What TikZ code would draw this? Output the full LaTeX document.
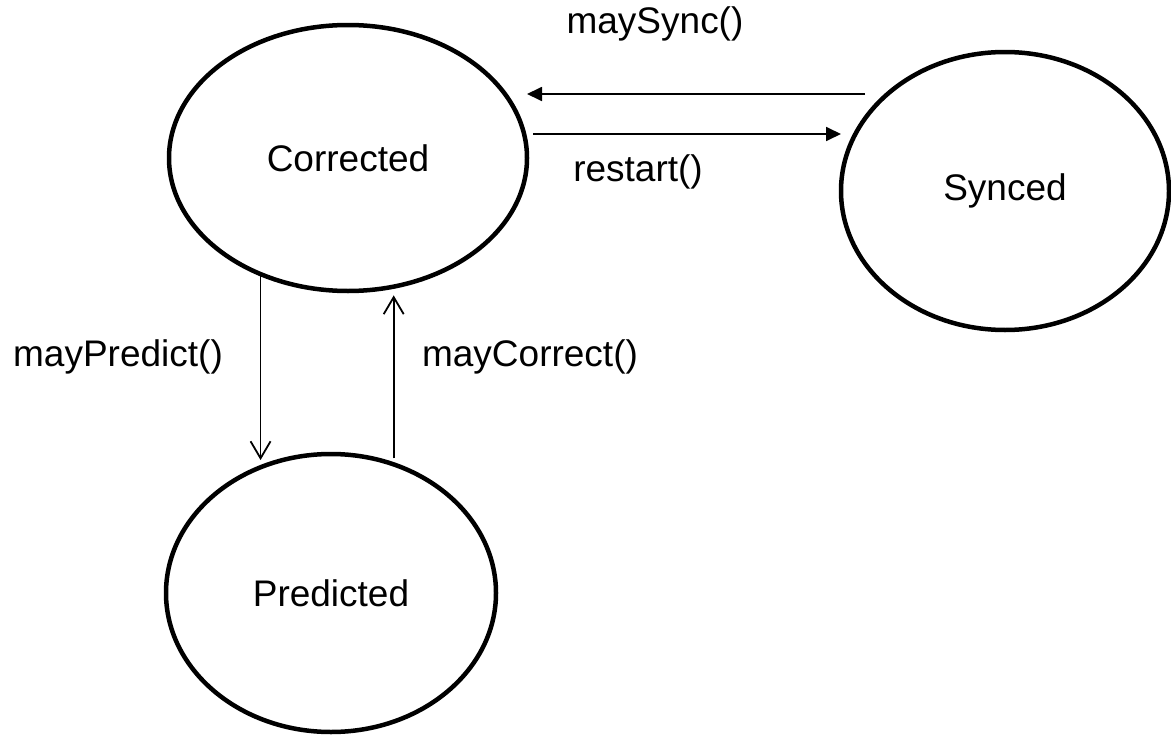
\documentclass[tikz,border=0pt]{standalone}
\usepackage{fontspec}
\setmainfont{Liberation Sans}
\usetikzlibrary{positioning,shapes.geometric,arrows.meta}
\tikzstyle{farrow} = [line width=1.8pt, -{Triangle[length=15pt,width=14pt]}]
\tikzstyle{oarrow} = [line width=1.8pt, -{Straight Barb[length=17pt,width=20pt,line width=1.8pt]}]
\tikzstyle{state} = [draw, ellipse, line width=4.5pt, outer sep=0pt, font={\fontsize{37}{44}\selectfont}]
\tikzstyle{lbl} = [font={\fontsize{37}{44}\selectfont}]

\begin{document}
\begin{tikzpicture}[x=1pt,y=-1pt]
    \useasboundingbox (0,0) rectangle (1171,736);
    \node [state, minimum width = 358pt, minimum height = 266pt] (corr) at (348,158) {Corrected};
    \node [state, minimum width = 328pt, minimum height = 278pt] (sync) at (1005,191) {Synced};
    \node [state, minimum width = 330pt, minimum height = 278pt] (pred) at (331,593) {Predicted};

    \coordinate (syncy) at (865,94);
    \coordinate (resty) at (533,134);

    \draw [farrow] (syncy) -- (syncy -| corr.east);
    \draw [farrow] (resty) -- (resty -| sync.west);

    \draw [oarrow, shorten >=7pt] (corr.-127.4) -- (corr.-127.4 |- pred.119.7);
    \draw [oarrow, shorten <=6pt, shorten >=9pt] (pred.64.5) -- (pred.64.5 |- corr.-70.9);

    \node [lbl] (lsync) at (655,24) {maySync()};
    \node [lbl] (lrest) at (638,172) {restart()};
    \node [lbl] (lpred) at (118,357) {mayPredict()};
    \node [lbl] (lcorr) at (530,357) {mayCorrect()};
\end{tikzpicture}
\end{document}
